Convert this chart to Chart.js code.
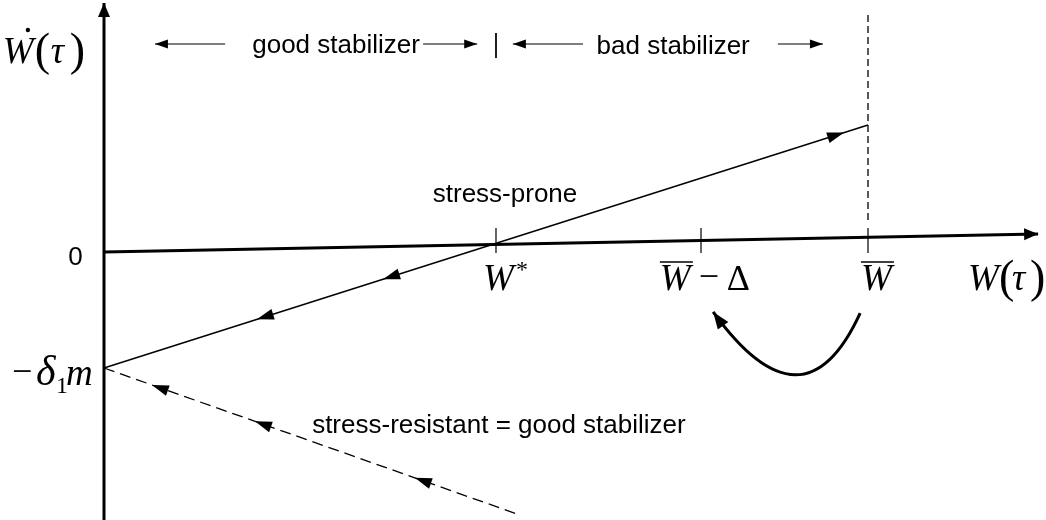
<!DOCTYPE html>
<html>
<head>
<meta charset="utf-8">
<script src="https://cdn.jsdelivr.net/npm/chart.js@4"></script>
<style>
  html, body { margin: 0; padding: 0; background: #fff; overflow: hidden; }
  canvas { display: block; }
</style>
</head>
<body>
<canvas id="phase" width="1046" height="520"></canvas>
<script>
// W in units of W*, Wdot in units of delta1*m
const W_STAR = 1.0;
const W_BAR_DELTA = 1.523;
const W_BAR = 1.949;
const tickW = [W_STAR, W_BAR_DELTA, W_BAR];
const tickY = [0.207, -0.009];

const axisXW = [0, 2.383];
const axisXY = [0, 0.155];
const axisYW = [0, 0];
const axisYY = [-2.31, 2.147];

const proneW = [0, W_BAR];
const proneY = [-1, 1.095];
const proneArrowW = [1.888, 0.712, 0.390];
const proneArrowDir = [1, -1, -1];

const resistW = [0, 1.061];
const resistY = [-1, -2.267];
const resistArrowW = [0.122, 0.385, 0.793];

const wbarLineY = [2.043, 0.26];
const topTickY = [1.888, 1.672];

// jump from Wbar back to Wbar - Delta: start, control, end
const jumpW = [1.929, 1.784, 1.554];
const jumpY = [-0.526, -1.595, -0.517];

const regionNames = ['good stabilizer', 'bad stabilizer'];
const regionTextW = [0.592, 1.452];
const regionTextY = [1.716, 1.707];
const regionArrowTail = [0.309, 0.814, 1.222, 1.719];
const regionArrowTip = [0.130, 0.952, 1.043, 1.834];
const regionArrowY = 1.793;

const noteNames = ['stress-prone', 'stress-resistant = good stabilizer'];
const noteW = [1.023, 0.531];
const noteY = [0.431, -1.560];
const noteAlign = ['center', 'left'];

function seg(ws, ys) {
  return ws.map(function (w, i) { return { x: w, y: ys[i] }; });
}

var datasets = [
  { data: seg(axisYW, axisYY), borderWidth: 3, headEnd: [14, 6] },
  { data: seg(axisXW, axisXY), borderWidth: 3, headEnd: [14, 6] },
  { data: seg(proneW, proneY), borderWidth: 1.4,
    arrows: proneArrowW.map(function (w, i) { return { w: w, dir: proneArrowDir[i] }; }) },
  { data: seg(resistW, resistY), borderWidth: 1.3, borderDash: [11, 6],
    arrows: resistArrowW.map(function (w) { return { w: w, dir: -1 }; }) },
  { data: seg([W_BAR, W_BAR], wbarLineY), borderWidth: 1.3, borderDash: [7, 4] },
  { data: seg([W_STAR, W_STAR], topTickY), borderWidth: 1 }
];
tickW.forEach(function (w) {
  datasets.push({ data: seg([w, w], tickY), borderWidth: 1.2 });
});
datasets.forEach(function (d) {
  d.showLine = true;
  d.pointRadius = 0;
  d.borderColor = '#000';
  d.fill = false;
});

function head(ctx, x, y, ang, len, half) {
  ctx.save();
  ctx.translate(x, y);
  ctx.rotate(ang);
  ctx.beginPath();
  ctx.moveTo(0, 0);
  ctx.lineTo(-len, -half);
  ctx.lineTo(-len, half);
  ctx.closePath();
  ctx.fill();
  ctx.restore();
}

const SANS = "26px 'Liberation Sans', Arial, sans-serif";
const SERIF_I = "italic 37px 'Liberation Serif', 'Times New Roman', serif";
const SERIF = "36px 'Liberation Serif', 'Times New Roman', serif";
const PAREN = "46px 'Liberation Serif', 'Times New Roman', serif";
const SMALL = "24px 'Liberation Serif', 'Times New Roman', serif";

function txt(ctx, s, x, y, font, align) {
  ctx.font = font;
  ctx.textAlign = align || 'left';
  ctx.fillText(s, x, y);
}

const decorations = {
  id: 'decorations',
  afterDatasetsDraw: function (chart) {
    var ctx = chart.ctx;
    var sx = chart.scales.x, sy = chart.scales.y;
    var px = function (w) { return sx.getPixelForValue(w); };
    var py = function (v) { return sy.getPixelForValue(v); };
    ctx.save();
    ctx.fillStyle = '#000';
    ctx.strokeStyle = '#000';
    ctx.textBaseline = 'alphabetic';

    // arrowheads on the lines
    chart.data.datasets.forEach(function (d, i) {
      var pts = chart.getDatasetMeta(i).data;
      var a = pts[0], b = pts[pts.length - 1];
      var ang = Math.atan2(b.y - a.y, b.x - a.x);
      if (d.headEnd) head(ctx, b.x, b.y, ang, d.headEnd[0], d.headEnd[1]);
      (d.arrows || []).forEach(function (ar) {
        var t = (ar.w - d.data[0].x) / (d.data[1].x - d.data[0].x);
        var x = a.x + t * (b.x - a.x), y = a.y + t * (b.y - a.y);
        head(ctx, x, y, ar.dir > 0 ? ang : ang + Math.PI, 17, 5.5);
      });
    });

    // curved jump arrow
    var p0x = px(jumpW[0]), p0y = py(jumpY[0]);
    var cx = px(jumpW[1]), cy = py(jumpY[1]);
    var p2x = px(jumpW[2]), p2y = py(jumpY[2]);
    ctx.lineWidth = 3;
    ctx.beginPath();
    ctx.moveTo(p0x, p0y);
    ctx.quadraticCurveTo(cx, cy, p2x, p2y);
    ctx.stroke();
    head(ctx, p2x, p2y, Math.atan2(p2y - cy, p2x - cx), 17, 6.5);

    // region arrows and labels at the top
    ctx.lineWidth = 1.2;
    regionArrowTail.forEach(function (w, i) {
      var y = py(regionArrowY);
      var x0 = px(w), x1 = px(regionArrowTip[i]);
      ctx.beginPath();
      ctx.moveTo(x0, y);
      ctx.lineTo(x1, y);
      ctx.stroke();
      head(ctx, x1, y, x1 > x0 ? 0 : Math.PI, 13, 4.5);
    });
    regionNames.forEach(function (s, i) {
      txt(ctx, s, px(regionTextW[i]), py(regionTextY[i]), SANS, 'center');
    });
    noteNames.forEach(function (s, i) {
      txt(ctx, s, px(noteW[i]), py(noteY[i]), SANS, noteAlign[i]);
    });

    // vertical axis labels
    txt(ctx, '0', px(-0.054), py(-0.112), SANS, 'right');
    var x0 = px(-0.258), b0 = py(1.629);
    txt(ctx, 'W', x0, b0, SERIF_I);
    ctx.beginPath();
    ctx.arc(x0 + 25, b0 - 33, 2.2, 0, 2 * Math.PI);
    ctx.fill();
    txt(ctx, '(', x0 + 32, b0 + 2, PAREN);
    txt(ctx, '\u03C4', x0 + 48, b0, SERIF_I);
    txt(ctx, ')', x0 + 67, b0 + 2, PAREN);

    x0 = px(-0.235); b0 = py(-1.147);
    txt(ctx, '\u2212', x0, b0 - 2, SERIF);
    txt(ctx, '\u03B4', x0 + 24, b0, "italic 42px 'Liberation Serif', serif");
    txt(ctx, '1', x0 + 44, b0 + 8, SMALL);
    txt(ctx, 'm', x0 + 54, b0, SERIF_I);

    // horizontal axis labels
    var base = py(-0.328);
    x0 = px(0.967);
    txt(ctx, 'W', x0, base, SERIF_I);
    txt(ctx, '*', x0 + 33, base - 13, SMALL);

    ctx.lineWidth = 1.6;
    [px(1.418), px(1.931)].forEach(function (x) {
      txt(ctx, 'W', x, base, SERIF_I);
      ctx.beginPath();
      ctx.moveTo(x, base - 28);
      ctx.lineTo(x + 33, base - 28);
      ctx.stroke();
    });
    x0 = px(1.418);
    txt(ctx, '\u2212', x0 + 39, base - 2, SERIF);
    txt(ctx, '\u0394', x0 + 67, base, SERIF);

    x0 = px(2.204);
    txt(ctx, 'W', x0, base, SERIF_I);
    txt(ctx, '(', x0 + 31, base + 2, PAREN);
    txt(ctx, '\u03C4', x0 + 44, base, SERIF_I);
    txt(ctx, ')', x0 + 62, base + 2, PAREN);
    ctx.restore();
  }
};

new Chart(document.getElementById('phase'), {
  type: 'scatter',
  data: { datasets: datasets },
  options: {
    responsive: false,
    animation: false,
    events: [],
    layout: { padding: 0, autoPadding: false },
    plugins: { legend: { display: false }, tooltip: { enabled: false } },
    scales: {
      x: { type: 'linear', display: false, min: -0.2653, max: 2.4031 },
      y: { type: 'linear', display: false, min: -2.3103, max: 2.1724 }
    }
  },
  plugins: [decorations]
});
</script>
</body>
</html>
